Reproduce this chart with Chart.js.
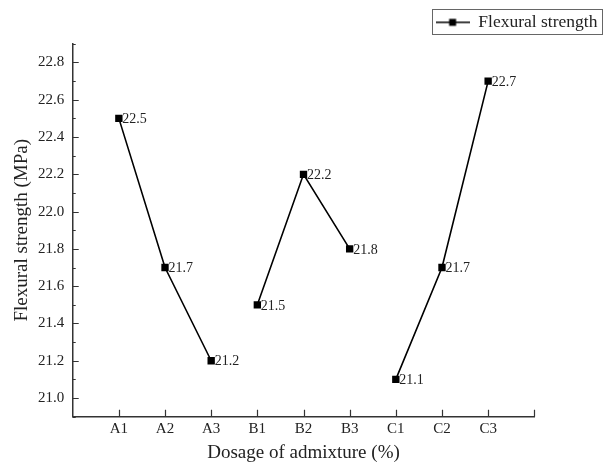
<!DOCTYPE html>
<html>
<head>
<meta charset="utf-8">
<script src="https://cdn.jsdelivr.net/npm/chart.js@4.4.1/dist/chart.umd.min.js"></script>
<style>
  html, body { margin: 0; padding: 0; background: #fff; }
</style>
</head>
<body>
<canvas id="myChart" width="611" height="464"></canvas>
<script>
// categories on the x axis
const categories = ['A1', 'A2', 'A3', 'B1', 'B2', 'B3', 'C1', 'C2', 'C3'];

// flexural strength (MPa) for each group
const groupA = [22.5, 21.7, 21.2];
const groupB = [21.5, 22.2, 21.8];
const groupC = [21.1, 21.7, 22.7];

// y tick labels
const yTicks = [21.0, 21.2, 21.4, 21.6, 21.8, 22.0, 22.2, 22.4, 22.6, 22.8];

const serif = "'Liberation Serif', 'Times New Roman', serif";
const ink = '#222';

// put a group on the x positions of its categories
const toPoints = (vals, first) => {
  let start = categories.indexOf(first) + 1;
  return vals.map((v, i) => ({ x: start + i, y: v }));
};

// legend marker: short line with a square in the middle
const marker = document.createElement('canvas');
marker.width = 34;
marker.height = 10;
let mctx = marker.getContext('2d');
mctx.strokeStyle = '#000';
mctx.lineWidth = 1.6;
mctx.beginPath();
mctx.moveTo(0, 5);
mctx.lineTo(34, 5);
mctx.stroke();
mctx.fillStyle = '#000';
mctx.fillRect(13.5, 1.5, 7, 7);

const lineStyle = {
  borderColor: '#000',
  backgroundColor: '#000',
  borderWidth: 1.6,
  pointStyle: 'rect',
  pointRadius: 5.2,
  pointBorderWidth: 0,
  tension: 0
};

const data = {
  datasets: [
    Object.assign({ label: 'Flexural strength', data: toPoints(groupA, 'A1') }, lineStyle),
    Object.assign({ label: 'Flexural strength', data: toPoints(groupB, 'B1') }, lineStyle),
    Object.assign({ label: 'Flexural strength', data: toPoints(groupC, 'C1') }, lineStyle)
  ]
};

// ticks pointing into the plot, like the original
const inwardTicks = {
  id: 'inwardTicks',
  afterDraw(chart) {
    const ctx = chart.ctx;
    const a = chart.chartArea;
    const x = chart.scales.x;
    const y = chart.scales.y;
    ctx.save();
    ctx.strokeStyle = '#333';
    ctx.lineWidth = 1.2;
    ctx.beginPath();
    for (let k = 209; k <= 229; k++) {
      let py = Math.round(y.getPixelForValue(k / 10)) + 0.5;
      let len = (k % 2 === 0) ? 6 : 3;
      ctx.moveTo(a.left, py);
      ctx.lineTo(a.left + len, py);
    }
    for (let i = 1; i <= categories.length + 1; i++) {
      let px = Math.round(x.getPixelForValue(i)) + 0.5;
      ctx.moveTo(px, a.bottom);
      ctx.lineTo(px, a.bottom - 7);
    }
    ctx.stroke();
    ctx.restore();
  }
};

// value next to every point
const valueLabels = {
  id: 'valueLabels',
  afterDatasetsDraw(chart) {
    const ctx = chart.ctx;
    ctx.save();
    ctx.font = '14px ' + serif;
    ctx.fillStyle = ink;
    ctx.textAlign = 'left';
    ctx.textBaseline = 'middle';
    chart.data.datasets.forEach((ds, i) => {
      chart.getDatasetMeta(i).data.forEach((pt, j) => {
        ctx.fillText(ds.data[j].y.toFixed(1), pt.x + 3.5, pt.y + 1);
      });
    });
    ctx.restore();
  }
};

// frame round the legend
const legendFrame = {
  id: 'legendFrame',
  afterDraw(chart) {
    const hb = chart.legend.legendHitBoxes[0];
    if (!hb) return;
    const ctx = chart.ctx;
    ctx.save();
    ctx.strokeStyle = '#666';
    ctx.lineWidth = 1;
    ctx.strokeRect(Math.round(hb.left - 4) + 0.5, Math.round(hb.top - 4.5) + 0.5,
      Math.round(hb.width + 8), Math.round(hb.height + 7));
    ctx.restore();
  }
};

const config = {
  type: 'line',
  data: data,
  options: {
    responsive: false,
    animation: false,
    devicePixelRatio: 1,
    layout: { padding: 0 },
    plugins: {
      legend: {
        position: 'top',
        align: 'end',
        labels: {
          filter: (item) => item.datasetIndex === 0,
          usePointStyle: true,
          pointStyle: marker,
          pointStyleWidth: 34,
          boxHeight: 17,
          padding: 13.6,
          color: ink,
          font: { family: serif, size: 17.5 }
        }
      },
      tooltip: { enabled: false }
    },
    scales: {
      x: {
        type: 'linear',
        min: 0,
        max: categories.length + 1,
        afterBuildTicks: (scale) => {
          scale.ticks = categories.map((c, i) => ({ value: i + 1 }));
        },
        afterFit: (scale) => { scale.height = 47.3; },
        grid: { display: false, drawTicks: false },
        border: { display: true, color: '#333', width: 1.5 },
        ticks: {
          padding: 3,
          color: ink,
          font: { family: serif, size: 15 },
          maxRotation: 0,
          callback: (v) => categories[v - 1] || ''
        },
        title: {
          display: true,
          text: 'Dosage of admixture (%)',
          color: ink,
          font: { family: serif, size: 19 },
          padding: { top: 0, bottom: 0 }
        }
      },
      y: {
        min: 20.9,
        max: 22.9,
        afterBuildTicks: (scale) => {
          scale.ticks = yTicks.map((v) => ({ value: v }));
        },
        afterFit: (scale) => { scale.width = 72.7; },
        grid: { display: false, drawTicks: false },
        border: { display: true, color: '#333', width: 1.5 },
        ticks: {
          padding: 8.5,
          color: ink,
          font: { family: serif, size: 15 },
          callback: (v) => Number(v).toFixed(1)
        },
        title: {
          display: true,
          text: 'Flexural strength (MPa)',
          color: ink,
          font: { family: serif, size: 19 },
          padding: { top: 10.6, bottom: 0 }
        }
      },
      spacer: {
        position: 'right',
        display: true,
        afterFit: (scale) => { scale.width = 76.7; },
        grid: { display: false },
        border: { display: false },
        ticks: { display: false }
      },
      spacerTop: {
        axis: 'x',
        type: 'linear',
        position: 'top',
        display: true,
        afterFit: (scale) => { scale.height = 2.7; },
        grid: { display: false },
        border: { display: false },
        ticks: { display: false }
      }
    }
  },
  plugins: [inwardTicks, valueLabels, legendFrame]
};

const myChart = new Chart(document.getElementById('myChart'), config);
</script>
</body>
</html>
